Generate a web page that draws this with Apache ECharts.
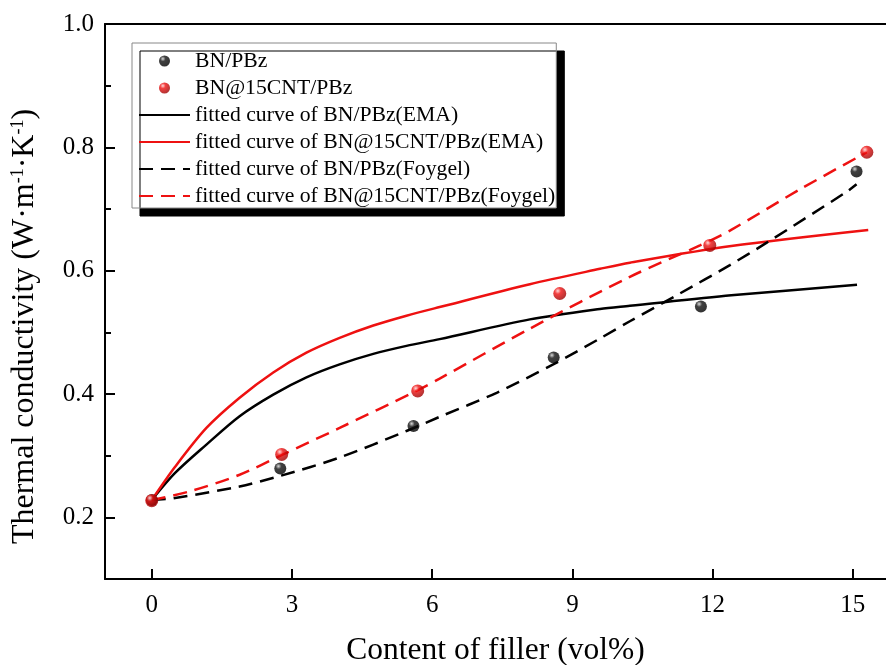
<!DOCTYPE html>
<html>
<head>
<meta charset="utf-8">
<script src="https://cdn.jsdelivr.net/npm/echarts@6/dist/echarts.min.js"></script>
<style>html,body{margin:0;padding:0;background:#fff}#c{width:886px;height:665px}</style>
</head>
<body>
<div id="c"></div>
<script>
// ---- data ----
const xTicks = [0, 3, 6, 9, 12, 15];
const yLabelTicks = [0.2, 0.4, 0.6, 0.8, 1.0];
const yMinorTicks = [0.3, 0.5, 0.7, 0.9];

const bnX = [0, 2.75, 5.6, 8.6, 11.75, 15.08];
const bnY = [0.228, 0.279, 0.348, 0.459, 0.542, 0.761];
const cntX = [0, 2.78, 5.69, 8.73, 11.94, 15.3];
const cntY = [0.227, 0.302, 0.405, 0.563, 0.641, 0.792];

const emaBnX = [0, 0.5, 1.17, 1.88, 2.6, 3.31, 4.02, 4.74, 5.45, 6.16, 8.09, 9.59, 10.23, 12.4, 15.09];
const emaBnY = [0.228, 0.272, 0.318, 0.364, 0.399, 0.427, 0.448, 0.465, 0.478, 0.489, 0.521, 0.538, 0.543, 0.560, 0.577];
const emaCntX = [0, 0.5, 1.17, 1.88, 2.6, 3.31, 4.02, 4.74, 5.45, 6.16, 8.09, 9.59, 10.23, 12.4, 15.33];
const emaCntY = [0.228, 0.282, 0.345, 0.394, 0.435, 0.467, 0.491, 0.511, 0.527, 0.541, 0.578, 0.603, 0.613, 0.640, 0.666];
const foyBnX = [0, 0.46, 1.88, 2.74, 4.02, 5.45, 6.16, 7.38, 8.59, 9.59, 10.23, 11.3, 12.37, 13.15, 14.87, 15.08];
const foyBnY = [0.228, 0.231, 0.250, 0.267, 0.297, 0.340, 0.363, 0.402, 0.448, 0.490, 0.518, 0.563, 0.609, 0.645, 0.728, 0.740];
const foyCntX = [0, 0.81, 1.88, 2.81, 4.02, 5.66, 6.16, 8.09, 10.23, 11.73, 12.37, 13.87, 15.3];
const foyCntY = [0.228, 0.242, 0.269, 0.302, 0.345, 0.405, 0.425, 0.506, 0.590, 0.641, 0.665, 0.732, 0.792];

const seriesNames = [
  'BN/PBz',
  'BN@15CNT/PBz',
  'fitted curve of BN/PBz(EMA)',
  'fitted curve of BN@15CNT/PBz(EMA)',
  'fitted curve of BN/PBz(Foygel)',
  'fitted curve of BN@15CNT/PBz(Foygel)'
];

// ---- build ----
const pairs = (xs, ys) => xs.map((x, i) => [x, ys[i]]);
const FONT = '"Liberation Serif", "Times New Roman", serif';
const RED = '#ee1111';

function ball(base, light, dark) {
  return {
    type: 'radial', x: 0.35, y: 0.3, r: 0.7,
    colorStops: [
      { offset: 0, color: light },
      { offset: 0.35, color: base },
      { offset: 1, color: dark }
    ]
  };
}

const legendData = seriesNames.map((n, i) => i < 2 ? { name: n } : {
  name: n, itemStyle: { color: 'rgba(0,0,0,0)', borderWidth: 0, opacity: 0 }
});

const lineCommon = { type: 'line', smooth: 0.3, showSymbol: false, symbol: 'none', z: 2 };

const chart = echarts.init(document.getElementById('c'), null, { renderer: 'canvas' });

const option = {
  backgroundColor: '#fff',
  animation: false,
  grid: { left: 105, right: 0, top: 24, bottom: 86, containLabel: false, outerBoundsMode: 'none' },
  legend: {
    orient: 'vertical',
    left: 132,
    top: 43,
    padding: [7, 1, 1, 6],
    itemWidth: 51,
    itemHeight: 11,
    itemGap: 5,
    backgroundColor: '#fff',
    borderColor: '#888',
    borderWidth: 1,
    shadowColor: '#000',
    shadowBlur: 0,
    shadowOffsetX: 8,
    shadowOffsetY: 8,
    textStyle: { fontFamily: FONT, fontSize: 21.7, color: '#000', lineHeight: 22 },
    data: legendData
  },
  xAxis: [
    {
      type: 'value', min: -1, max: 15.71, position: 'bottom',
      name: 'Content of filler (vol%)', nameLocation: 'middle', nameGap: 56,
      nameTextStyle: { fontFamily: FONT, fontSize: 31.5, color: '#000' },
      axisLine: { show: true, onZero: false, lineStyle: { color: '#000', width: 2 } },
      axisTick: { show: true, inside: true, length: 10, customValues: xTicks, lineStyle: { color: '#000', width: 2 } },
      axisLabel: { customValues: xTicks, fontFamily: FONT, fontSize: 25, color: '#000', margin: 14 },
      splitLine: { show: false }
    },
    {
      type: 'value', min: -1, max: 15.71, position: 'top',
      axisLine: { show: true, onZero: false, lineStyle: { color: '#000', width: 2 } },
      axisTick: { show: false }, axisLabel: { show: false }, splitLine: { show: false }
    }
  ],
  yAxis: [
    {
      type: 'value', min: 0.1, max: 1.0, position: 'left',
      name: '{n|Thermal conductivity (W·m}{s|-1}{n|·K}{s|-1}{n|)}',
      nameLocation: 'middle', nameGap: 64, nameRotate: 90,
      nameTextStyle: {
        fontFamily: FONT, color: '#000', padding: [0, 50, 0, 0],
        rich: {
          n: { fontFamily: FONT, fontSize: 32, color: '#000' },
          s: { fontFamily: FONT, fontSize: 18, color: '#000', verticalAlign: 'top', padding: [0, 0, 12, 0] }
        }
      },
      axisLine: { show: true, onZero: false, lineStyle: { color: '#000', width: 2 } },
      axisTick: { show: true, inside: true, length: 10, customValues: yLabelTicks, lineStyle: { color: '#000', width: 2 } },
      axisLabel: {
        customValues: yLabelTicks, fontFamily: FONT, fontSize: 25, color: '#000', margin: 11,
        formatter: v => Number(v).toFixed(1)
      },
      splitLine: { show: false }
    },
    {
      type: 'value', min: 0.1, max: 1.0, position: 'right', offset: -781,
      axisLine: { show: false, onZero: false },
      axisTick: { show: true, inside: false, length: 6, customValues: yMinorTicks, lineStyle: { color: '#000', width: 2 } },
      axisLabel: { show: false },
      splitLine: { show: false }
    }
  ],
  series: [
    Object.assign({}, lineCommon, {
      name: seriesNames[2], data: pairs(emaBnX, emaBnY),
      lineStyle: { color: '#000', width: 2.5 }, itemStyle: { color: '#000' }
    }),
    Object.assign({}, lineCommon, {
      name: seriesNames[3], data: pairs(emaCntX, emaCntY),
      lineStyle: { color: RED, width: 2.5 }, itemStyle: { color: RED }
    }),
    Object.assign({}, lineCommon, {
      name: seriesNames[4], data: pairs(foyBnX, foyBnY),
      lineStyle: { color: '#000', width: 2.5, type: [14, 8] }, itemStyle: { color: '#000' }
    }),
    Object.assign({}, lineCommon, {
      name: seriesNames[5], data: pairs(foyCntX, foyCntY),
      lineStyle: { color: RED, width: 2.5, type: [14, 8] }, itemStyle: { color: RED }
    }),
    {
      name: seriesNames[0], type: 'scatter', symbol: 'circle', symbolSize: 12,
      data: pairs(bnX, bnY), itemStyle: { color: ball('#111', '#cfcfcf', '#000') }, z: 5
    },
    {
      name: seriesNames[1], type: 'scatter', symbol: 'circle', symbolSize: 13,
      data: pairs(cntX, cntY), itemStyle: { color: ball('#f01010', '#ffd0d0', '#a00000') }, z: 5
    }
  ]
};
chart.setOption(option);
</script>
</body>
</html>
